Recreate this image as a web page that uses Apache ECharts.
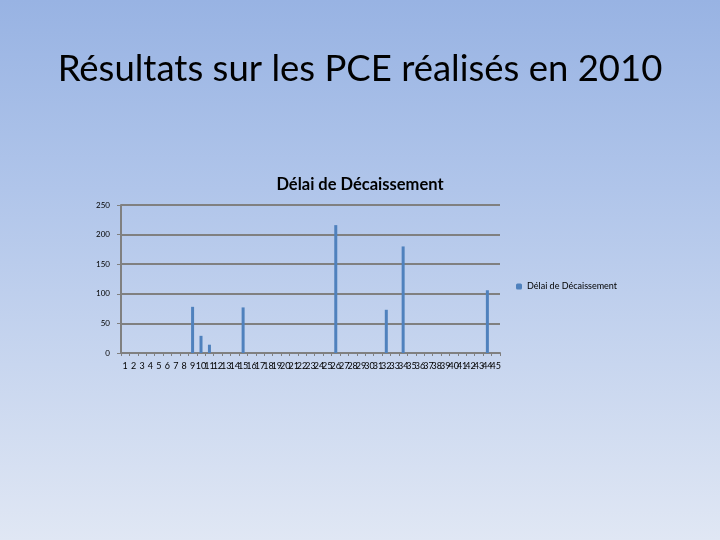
<!DOCTYPE html>
<html><head><meta charset="utf-8">
<script src="https://cdn.jsdelivr.net/npm/echarts@6/dist/echarts.min.js"></script>
<style>html,body{margin:0;padding:0;}#c{width:720px;height:540px;}</style>
</head><body><div id="c"></div>
<script>
var categories = [];
for (var i = 1; i <= 45; i++) categories.push(String(i));
var seriesName = 'Délai de Décaissement';
var values = [0,0,0,0,0,0,0,0,78,29,14,0,0,0,77,0,0,0,0,0,0,0,0,0,0,216,0,0,0,0,0,73,0,180,0,0,0,0,0,0,0,0,0,106,0];
var yTicks = [0, 50, 100, 150, 200, 250];

var chart = echarts.init(document.getElementById('c'));
chart.setOption({
  backgroundColor: new echarts.graphic.LinearGradient(0,0,0,1,[
    {offset:0,color:'#98b3e3'},{offset:0.35,color:'#b0c5ea'},{offset:1,color:'#e0e7f4'}]),
  animation:false,
  title:[{text:'Résultats sur les PCE réalisés en 2010',left:'center',top:46,
    textStyle:{fontFamily:'Lato',fontSize:36.5,fontWeight:'normal',color:'#000'}},
    {text:'Délai de Décaissement',left:'center',top:171,
    textStyle:{fontFamily:'Lato',fontSize:16.5,fontWeight:'bold',color:'#000'}}],
  legend:{show:true,left:511,top:277,itemWidth:6,itemHeight:6,itemGap:4,
    textStyle:{fontFamily:'Lato',fontSize:9,color:'#000'},data:[seriesName]},
  grid:{left:121,top:205,width:379,height:148,containLabel:false},
  xAxis:{type:'category',data:categories,
    axisLine:{lineStyle:{color:'#808080',width:2}},
    axisTick:{show:true,length:3,interval:0,lineStyle:{color:'#808080',width:1}},
    axisLabel:{interval:0,fontFamily:'Lato',fontSize:9,color:'#000',margin:9}},
  yAxis:{type:'value',min:0,max:250,interval:50,
    axisLine:{show:true,lineStyle:{color:'#808080',width:2}},
    axisTick:{show:true,length:4,lineStyle:{color:'#808080'}},
    splitLine:{lineStyle:{color:'#808080',width:2}},
    axisLabel:{fontFamily:'Lato',fontSize:8,color:'#000',margin:11}},
  series:[{name:seriesName,type:'bar',data:values,barWidth:3,itemStyle:{color:'#4f81bd'}}]
});
</script></body></html>
